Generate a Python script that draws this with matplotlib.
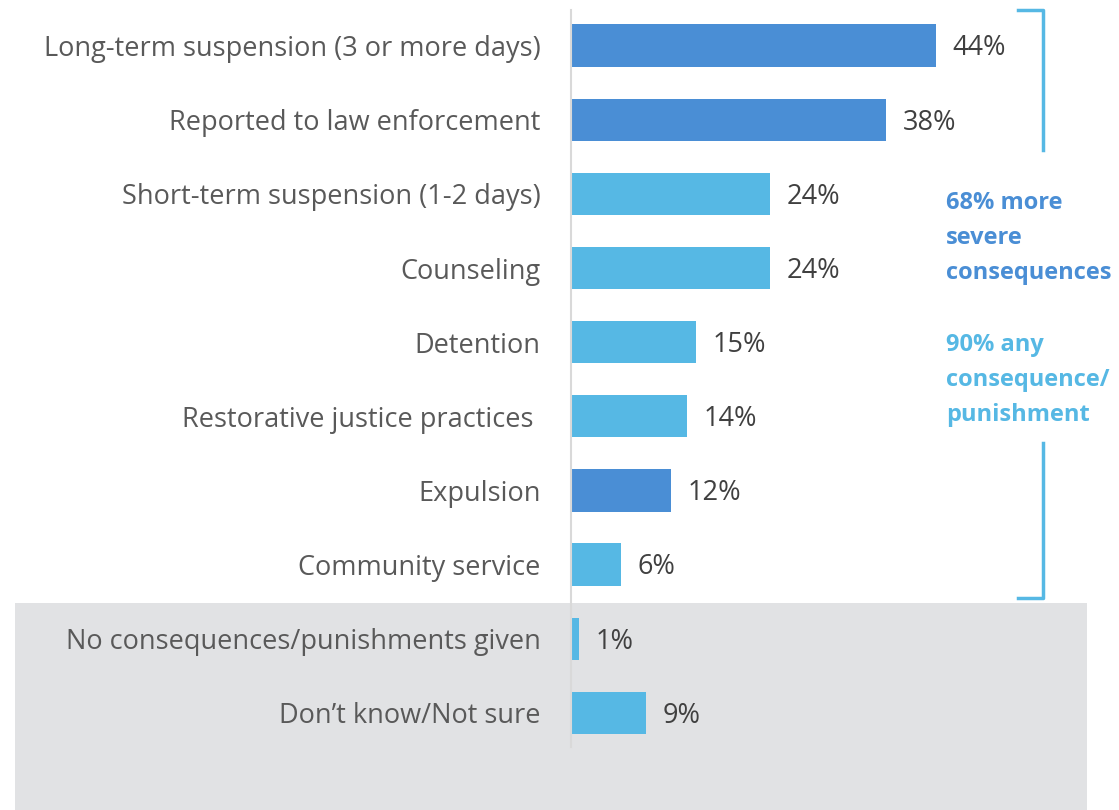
import matplotlib.pyplot as plt
from matplotlib.patches import Rectangle
from matplotlib.lines import Line2D

# data
categories = [
    "Long-term suspension (3 or more days)",
    "Reported to law enforcement",
    "Short-term suspension (1-2 days)",
    "Counseling",
    "Detention",
    "Restorative justice practices ",
    "Expulsion",
    "Community service",
    "No consequences/punishments given",
    "Don\u2019t know/Not sure",
]
values = [44, 38, 24, 24, 15, 14, 12, 6, 1, 9]
severe = [True, True, False, False, False, False, True, False, False, False]

DARK = "#4A8ED5"
LIGHT = "#56B8E4"
TEXT = "#404040"

plt.rcParams["font.family"] = ["Open Sans", "DejaVu Sans"]

W, H = 1119, 810
fig = plt.figure(figsize=(W / 100, H / 100), dpi=100)

# grey band behind the last two rows
fig.patches.append(Rectangle((15 / W, 0), (1087 - 15) / W, (810 - 603) / H,
                             transform=fig.transFigure, facecolor="#E1E2E4",
                             edgecolor="none", zorder=-5))

ax = fig.add_axes([571 / W, (810 - 747) / H, (W - 571) / W, 737 / H])
ax.set_zorder(2)
ax.patch.set_alpha(0)
ypos = list(range(len(categories)))
colors = [DARK if s else LIGHT for s in severe]
ax.barh(ypos, values, height=0.57, color=colors, zorder=2)
ax.set_xlim(0, (W - 571) / 8.3)
ax.set_ylim(len(categories) - 0.54, -0.48)

for y, v in zip(ypos, values):
    ax.annotate(f"{v}%", (v, y), xytext=(12, -2), textcoords="offset points",
                va="center", ha="left", fontsize=19.5, color=TEXT)

ax.set_yticks(ypos)
ax.set_yticklabels(categories, fontsize=19.5, color="#595959")
ax.tick_params(axis="y", length=0, pad=22)
ax.set_xticks([])
for side in ["top", "right", "bottom"]:
    ax.spines[side].set_visible(False)
ax.spines["left"].set_color("#D9D9D9")
ax.spines["left"].set_linewidth(1.5)

# bracket on the right
def fig_line(xs, ys):
    fig.lines.append(Line2D([x / W for x in xs], [1 - y / H for y in ys],
                            transform=fig.transFigure, color=LIGHT, lw=2.5))

fig_line([1018, 1043, 1043], [10, 10, 150])
fig_line([1043, 1043, 1018], [443, 598, 598])

fig.text(946 / W, 1 - 191 / H, "68% more\nsevere\nconsequences", color=DARK,
         fontsize=17, fontweight="bold", va="top", ha="left", linespacing=1.6)
fig.text(946 / W, 1 - 333 / H, "90% any\nconsequence/\npunishment", color=LIGHT,
         fontsize=17, fontweight="bold", va="top", ha="left", linespacing=1.6)

fig.savefig("out.png", dpi=100)
